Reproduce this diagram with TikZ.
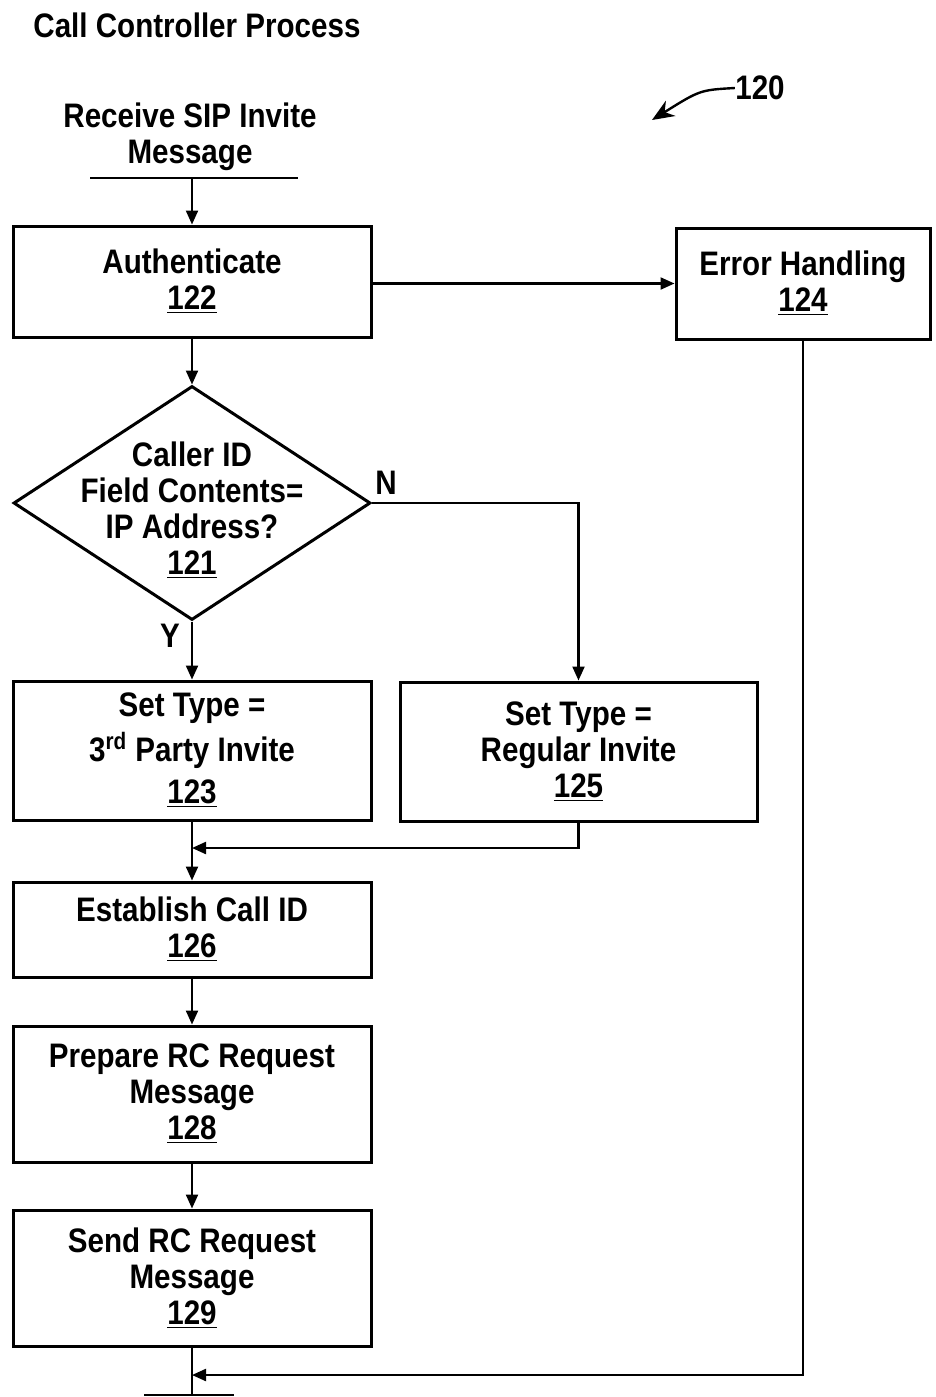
\documentclass[tikz,border=0pt]{standalone}
\usepackage{fontspec}
\setmainfont{Liberation Sans}[FakeStretch=0.87]
\usetikzlibrary{arrows.meta,shapes.geometric}
\newcommand{\num}[1]{\underline{#1}}
\begin{document}
\begin{tikzpicture}[x=0.5pt,y=-0.5pt,
  txt/.style={font=\fontsize{17}{18}\selectfont\bfseries, align=center, inner sep=0pt},
  procbox/.style={txt, draw, line width=1.5pt},
  arr/.style={line width=1.1pt, -{Triangle[length=7pt,width=6pt]}},
  ln/.style={line width=1.1pt}]
\useasboundingbox (0,0) rectangle (936,1397);
% title
\node[txt, anchor=west] (title) at (33,25) {Call Controller Process};
% 120 reference
\node[txt] (ref) at (760,88) {120};
\coordinate (refend) at (652,120);
\draw[line width=1.2pt, -{Stealth[length=11pt,width=9pt]}] (ref.west) .. controls (700,90) .. (refend);
% start
\node[txt] (recv) at (190,137) {Receive SIP Invite\\Message};
\coordinate (barL) at (90,178);
\coordinate (barR) at (298,178);
\coordinate (start) at (192,178);
\draw[ln] (barL) -- (barR);
% boxes
\node[procbox, minimum width=179pt, minimum height=55.5pt] (auth) at (192,281.5) {Authenticate\\\num{122}};
\node[procbox, minimum width=127pt, minimum height=55.5pt] (err) at (803,283.5) {Error Handling\\\num{124}};
\node[diamond, draw, line width=1.5pt, minimum width=178.5pt, minimum height=117pt, inner sep=0pt, aspect=1.53] (dec) at (192,503) {};
\node[txt] (dectxt) at (192,510) {Caller ID\\Field Contents=\\IP Address?\\\num{121}};
\node[procbox, minimum width=179pt, minimum height=69.5pt] (b123) at (192,750.5) {Set Type =\\[3pt]3\textsuperscript{rd} Party Invite\\[3pt]\num{123}};
\node[procbox, minimum width=178.5pt, minimum height=69.5pt] (b125) at (578.5,751.5) {Set Type =\\Regular Invite\\\num{125}};
\node[procbox, minimum width=179pt, minimum height=47.5pt] (b126) at (192,929.5) {Establish Call ID\\\num{126}};
\node[procbox, minimum width=179pt, minimum height=68pt] (b128) at (192,1094) {Prepare RC Request\\Message\\\num{128}};
\node[procbox, minimum width=179pt, minimum height=68pt] (b129) at (192,1278) {Send RC Request\\Message\\\num{129}};
% labels
\node[txt] (nlab) at (386,483) {N};
\node[txt] (ylab) at (170,636) {Y};
% end
\coordinate (endc) at (192,1395);
\coordinate (ebarL) at (144,1395);
\coordinate (ebarR) at (234,1395);
\coordinate (m1) at (192,848);
\coordinate (m2) at (192,1375);
% connectors
\draw[arr] (start) -- (auth.north);
\draw[arr] (auth.east |- err.west) -- (err.west);
\draw[arr] (auth.south) -- (dec.north);
\draw[arr] (dec.east) -| (b125.north);
\draw[arr] (dec.south) -- (b123.north);
\draw[arr] (b123.south) -- (b126.north);
\draw[arr] (b125.south) |- (m1);
\draw[arr] (b126.south) -- (b128.north);
\draw[arr] (b128.south) -- (b129.north);
\draw[ln] (b129.south) -- (endc);
\draw[ln] (ebarL) -- (ebarR);
\draw[arr] (err.south) |- (m2);
\end{tikzpicture}
\end{document}
